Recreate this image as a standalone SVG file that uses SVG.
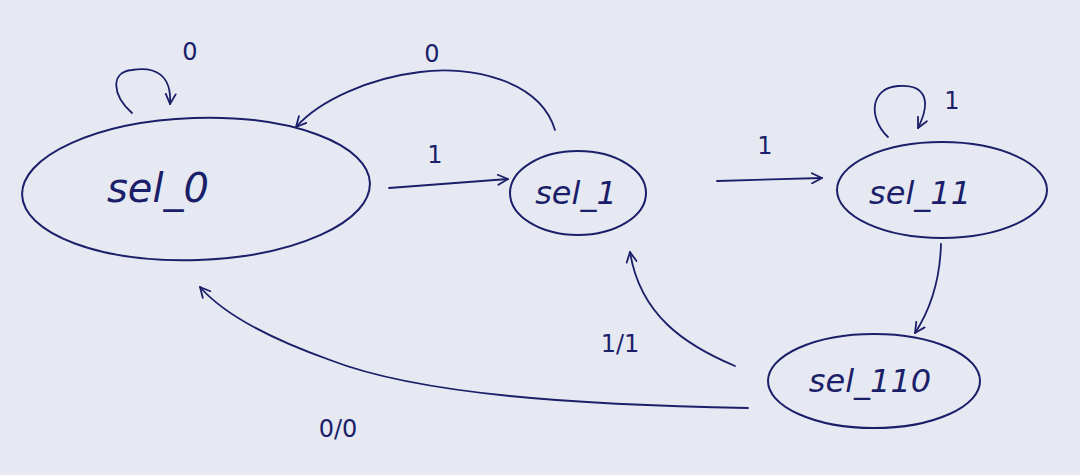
<svg xmlns="http://www.w3.org/2000/svg" width="1080" height="475" viewBox="0 0 1080 475">
<defs>
<style>
.st{fill:none;stroke:#1b1f6a;stroke-width:2}
.ed{fill:none;stroke:#1b1f6a;stroke-width:1.8;stroke-linecap:round}
.nt{font-family:"DejaVu Sans",sans-serif;font-style:italic;fill:#1b1f6a;text-anchor:middle}
.lb{font-family:"DejaVu Sans",sans-serif;font-size:24px;fill:#1b1f6a;text-anchor:middle}
</style>
<marker id="ah" viewBox="0 0 12 12" refX="11" refY="6" markerWidth="12" markerHeight="12" markerUnits="userSpaceOnUse" orient="auto">
<path d="M1,1 L11,6 L1,11" fill="none" stroke="#1b1f6a" stroke-width="1.8" stroke-linecap="round" stroke-linejoin="round"/>
</marker>
</defs>
<rect width="1080" height="475" fill="#e6e9f1"/>
<g id="sel_0">
<ellipse class="st" cx="196" cy="189" rx="174" ry="71" transform="rotate(-2 196 189)"/>
<text class="nt" x="158" y="202" font-size="40">sel_0</text>
</g>
<g id="sel_1">
<ellipse class="st" cx="578" cy="193" rx="68" ry="42"/>
<text class="nt" x="576" y="204" font-size="32">sel_1</text>
</g>
<g id="sel_11">
<ellipse class="st" cx="942" cy="190" rx="105" ry="48"/>
<text class="nt" x="920" y="204" font-size="32">sel_11</text>
</g>
<g id="sel_110">
<ellipse class="st" cx="874" cy="381" rx="106" ry="47"/>
<text class="nt" x="870" y="392" font-size="32">sel_110</text>
</g>
<g id="connectors">
<path class="ed" marker-end="url(#ah)" d="M132,113 C112,95 110,72 132,70 C155,66 172,75 170,104"/>
<text class="lb" x="190" y="60">0</text>
<path class="ed" marker-end="url(#ah)" d="M555,130 C540,80 470,65 420,72 C370,78 320,100 296,127"/>
<text class="lb" x="432" y="62">0</text>
<path class="ed" marker-end="url(#ah)" d="M389,188 L508,179"/>
<text class="lb" x="435" y="163">1</text>
<path class="ed" marker-end="url(#ah)" d="M717,181 L822,178"/>
<text class="lb" x="765" y="154">1</text>
<path class="ed" marker-end="url(#ah)" d="M888,137 C868,118 870,88 898,86 C925,84 932,100 918,128"/>
<text class="lb" x="952" y="109">1</text>
<path class="ed" marker-end="url(#ah)" d="M941,244 C940,280 930,310 915,333"/>
<path class="ed" marker-end="url(#ah)" d="M735,366 C685,345 640,315 630,252"/>
<text class="lb" x="620" y="352">1/1</text>
<path class="ed" marker-end="url(#ah)" d="M748,408 C580,405 420,395 330,360 C260,335 220,310 200,287"/>
<text class="lb" x="338" y="437">0/0</text>
</g>
</svg>
